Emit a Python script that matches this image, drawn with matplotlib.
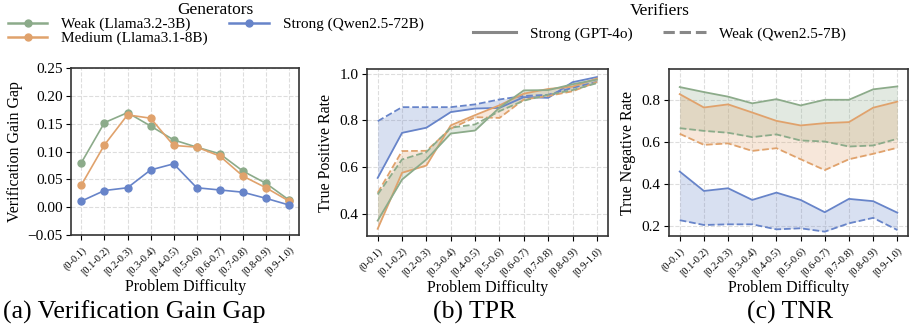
import matplotlib
matplotlib.use("Agg")
import matplotlib.pyplot as plt
from matplotlib.lines import Line2D

plt.rcParams["font.family"] = ["Liberation Serif", "DejaVu Serif"]

# Difficulty bins
bins = ["(0-0.1)", "[0.1-0.2)", "[0.2-0.3)", "[0.3-0.4)", "[0.4-0.5)",
        "[0.5-0.6)", "[0.6-0.7)", "[0.7-0.8)", "[0.8-0.9)", "[0.9-1.0)"]

# (a) verification gain gap per generator
gap_weak = [0.080, 0.152, 0.170, 0.146, 0.121, 0.108, 0.096, 0.065, 0.043, 0.013]
gap_medium = [0.040, 0.112, 0.166, 0.160, 0.111, 0.108, 0.092, 0.056, 0.035, 0.011]
gap_strong = [0.011, 0.030, 0.035, 0.067, 0.078, 0.035, 0.031, 0.027, 0.016, 0.004]

# (b) TPR: strong verifier (solid) vs weak verifier (dashed)
tpr_weak_s = [0.371, 0.547, 0.633, 0.744, 0.757, 0.855, 0.929, 0.930, 0.955, 0.975]
tpr_weak_w = [0.483, 0.633, 0.665, 0.769, 0.783, 0.840, 0.885, 0.910, 0.930, 0.960]
tpr_medium_s = [0.336, 0.576, 0.607, 0.779, 0.823, 0.865, 0.915, 0.935, 0.945, 0.980]
tpr_medium_w = [0.490, 0.669, 0.670, 0.765, 0.814, 0.811, 0.890, 0.905, 0.925, 0.965]
tpr_strong_s = [0.554, 0.747, 0.769, 0.836, 0.851, 0.854, 0.900, 0.897, 0.964, 0.986]
tpr_strong_w = [0.797, 0.857, 0.857, 0.857, 0.869, 0.890, 0.905, 0.910, 0.940, 0.965]

# (c) TNR
tnr_weak_s = [0.864, 0.840, 0.818, 0.786, 0.806, 0.776, 0.803, 0.803, 0.853, 0.867]
tnr_weak_w = [0.667, 0.654, 0.645, 0.624, 0.637, 0.608, 0.603, 0.579, 0.584, 0.616]
tnr_medium_s = [0.830, 0.766, 0.781, 0.742, 0.702, 0.680, 0.691, 0.696, 0.765, 0.794]
tnr_medium_w = [0.640, 0.587, 0.594, 0.558, 0.571, 0.518, 0.466, 0.518, 0.544, 0.573]
tnr_strong_s = [0.459, 0.366, 0.379, 0.323, 0.358, 0.323, 0.264, 0.328, 0.317, 0.262]
tnr_strong_w = [0.226, 0.203, 0.206, 0.206, 0.182, 0.187, 0.171, 0.211, 0.237, 0.179]

GREEN = "#8cab8a"
ORANGE = "#e0a26c"
BLUE = "#6784c9"

x = list(range(len(bins)))

fig = plt.figure(figsize=(9.1, 3.26), dpi=100)
ax_a = fig.add_axes([0.078, 0.279, 0.251, 0.512])
ax_b = fig.add_axes([0.403, 0.276, 0.265, 0.512])
ax_c = fig.add_axes([0.735, 0.276, 0.263, 0.512])


def style_axis(ax):
    ax.grid(True, linestyle="--", color="#dddddd", linewidth=0.8)
    ax.set_axisbelow(True)
    ax.set_xticks(x)
    ax.set_xticklabels(bins, rotation=45, ha="right", rotation_mode="anchor", fontsize=7.5)
    ax.tick_params(axis="y", labelsize=11, pad=2.5)
    ax.set_xlabel("Problem Difficulty", fontsize=11.5, labelpad=1)
    for s in ax.spines.values():
        s.set_color("#333333")
        s.set_linewidth(1.2)


# (a)
ax_a.plot(x, gap_weak, marker="o", ms=5, lw=1.2, color=GREEN)
ax_a.plot(x, gap_medium, marker="o", ms=5, lw=1.2, color=ORANGE)
ax_a.plot(x, gap_strong, marker="o", ms=5, lw=1.2, color=BLUE)
ax_a.set_ylim(-0.05, 0.25)
ax_a.set_yticks([-0.05, 0.0, 0.05, 0.10, 0.15, 0.20, 0.25])
ax_a.set_yticklabels(["\u22120.05", "0.00", "0.05", "0.10", "0.15", "0.20", "0.25"])
ax_a.set_ylabel("Verification Gain Gap", fontsize=11.5, labelpad=3)
style_axis(ax_a)

# (b) and (c)
groups_b = [(tpr_strong_s, tpr_strong_w, BLUE),
            (tpr_medium_s, tpr_medium_w, ORANGE),
            (tpr_weak_s, tpr_weak_w, GREEN)]
groups_c = [(tnr_weak_s, tnr_weak_w, GREEN),
            (tnr_medium_s, tnr_medium_w, ORANGE),
            (tnr_strong_s, tnr_strong_w, BLUE)]

for ax, groups in [(ax_b, groups_b), (ax_c, groups_c)]:
    for solid, dashed, col in groups:
        ax.fill_between(x, solid, dashed, color=col, alpha=0.25, linewidth=0)
        ax.plot(x, solid, color=col, lw=1.3)
        ax.plot(x, dashed, color=col, lw=1.3, ls="--")

ax_b.set_ylim(0.305, 1.02)
ax_b.set_yticks([0.4, 0.6, 0.8, 1.0])
ax_b.set_ylabel("True Positive Rate", fontsize=11.5, labelpad=4)
style_axis(ax_b)

ax_c.set_ylim(0.15, 0.95)
ax_c.set_yticks([0.2, 0.4, 0.6, 0.8])
ax_c.set_ylabel("True Negative Rate", fontsize=11.5, labelpad=4)
style_axis(ax_c)

# legends
gen_handles = [Line2D([], [], color=GREEN, marker="o", ms=5, lw=1.8),
               Line2D([], [], color=ORANGE, marker="o", ms=5, lw=1.8),
               Line2D([], [], color=BLUE, marker="o", ms=5, lw=1.8)]
gen_labels = ["Weak (Llama3.2-3B)", "Medium (Llama3.1-8B)", "Strong (Qwen2.5-72B)"]
fig.legend(gen_handles, gen_labels, title="Generators", ncol=2,
           loc="upper center", bbox_to_anchor=(0.237, 1.0), frameon=False,
           fontsize=11, title_fontsize=12.5, handlelength=2.6, handletextpad=0.9,
           columnspacing=1.4, labelspacing=0.0, borderpad=0.1, borderaxespad=0)

ver_handles = [Line2D([], [], color="#888888", lw=2.2),
               Line2D([], [], color="#888888", lw=2.2, ls="--")]
ver_labels = ["Strong (GPT-4o)", "Weak (Qwen2.5-7B)"]
fig.legend(ver_handles, ver_labels, title="Verifiers", ncol=2,
           loc="upper center", bbox_to_anchor=(0.725, 0.995), frameon=False,
           fontsize=11, title_fontsize=12.5, handlelength=2.8, handletextpad=0.9,
           columnspacing=2.0, borderpad=0.1, borderaxespad=0)

# panel captions
fig.text(0.148, 0.022, "(a) Verification Gain Gap", ha="center", fontsize=18.5)
fig.text(0.522, 0.022, "(b) TPR", ha="center", fontsize=18.5)
fig.text(0.868, 0.022, "(c) TNR", ha="center", fontsize=18.5)

fig.savefig("out.png", dpi=100)
